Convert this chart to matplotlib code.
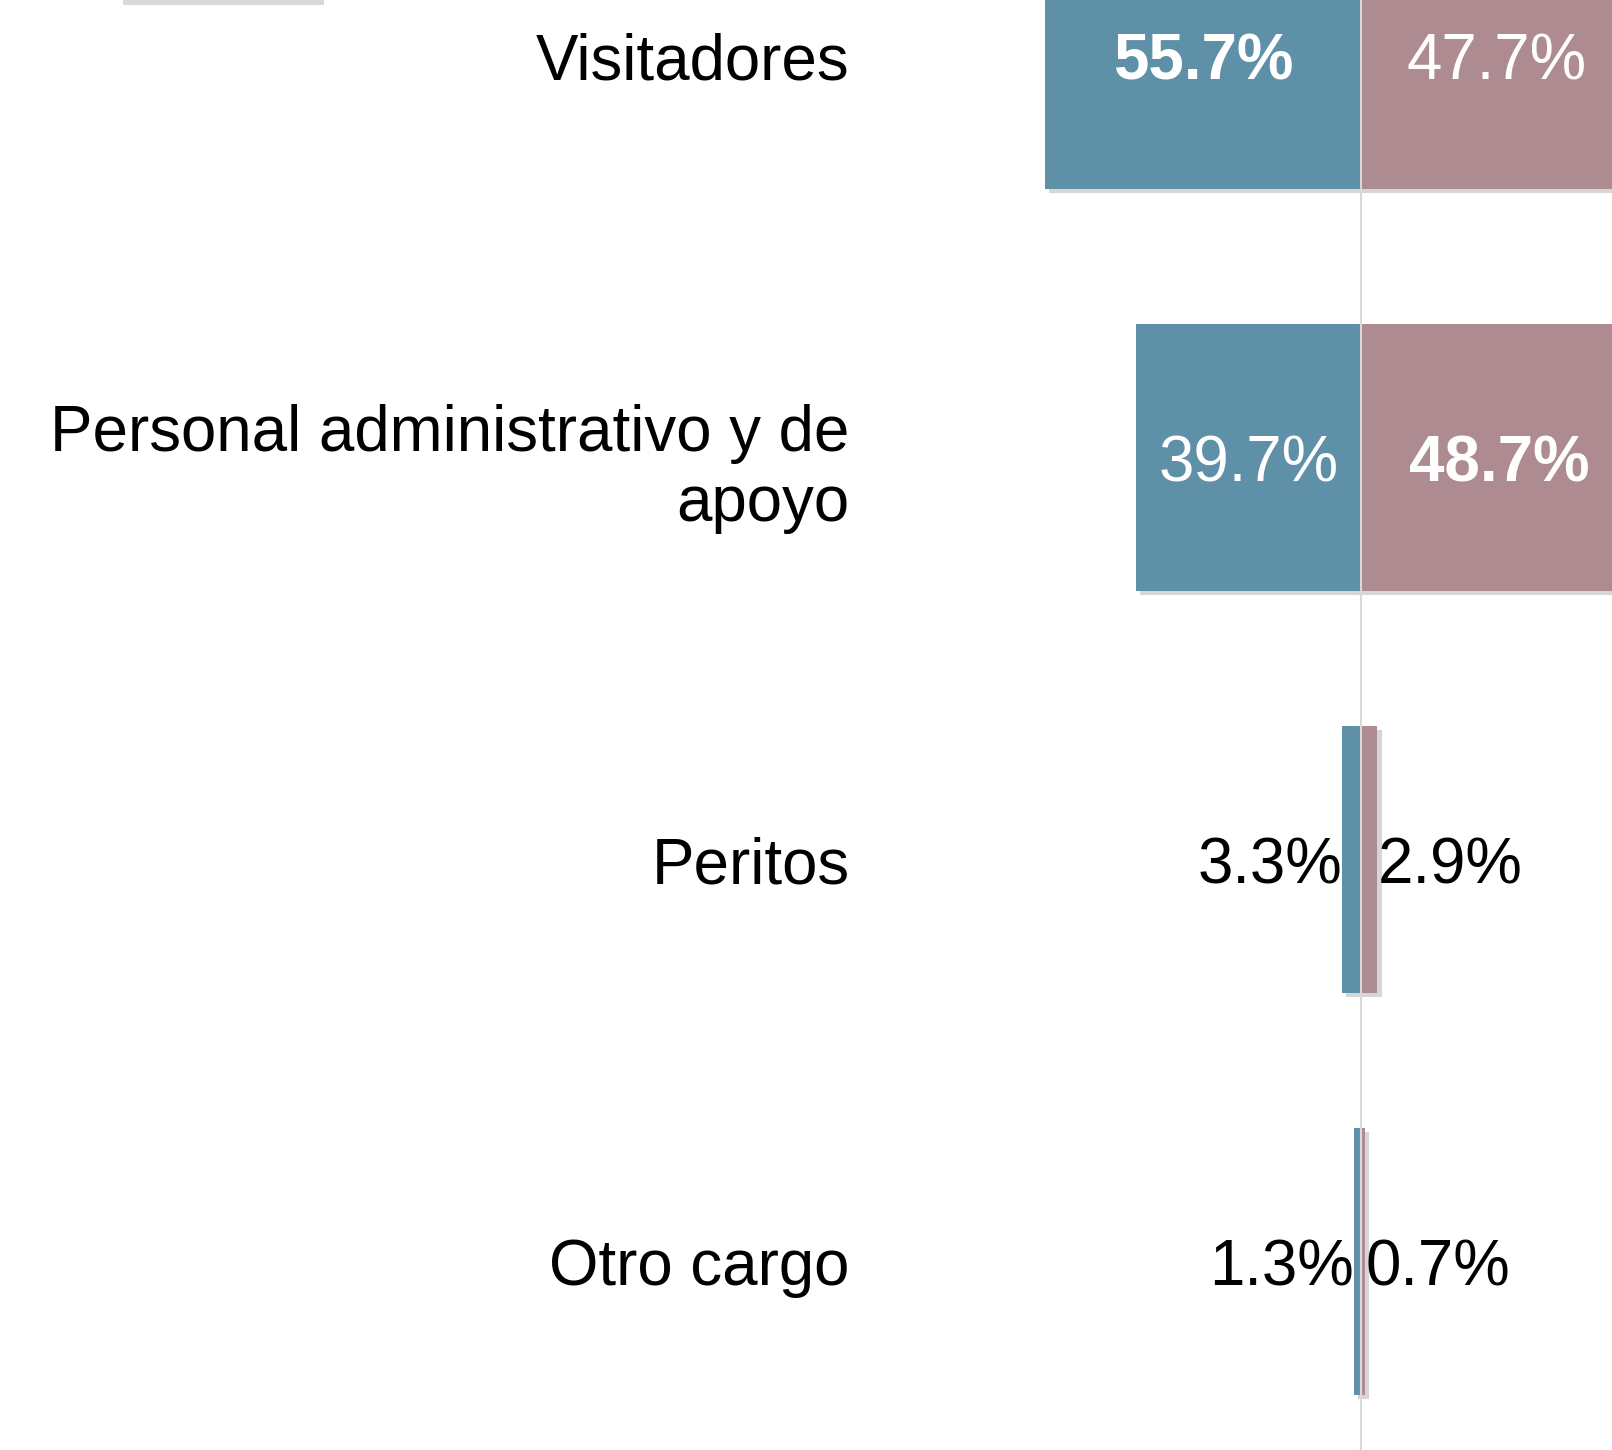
import matplotlib
matplotlib.use("Agg")
import matplotlib.pyplot as plt
import matplotlib.patheffects as pe
from matplotlib.patches import Rectangle

plt.rcParams['font.family'] = ['Liberation Sans', 'DejaVu Sans']

categorias = ["Visitadores", "Personal administrativo y de\napoyo", "Peritos", "Otro cargo"]
serie_izq = [55.7, 39.7, 3.3, 1.3]   # azul
serie_der = [47.7, 48.7, 2.9, 0.7]   # malva
negrita_izq = [True, False, False, False]
negrita_der = [False, True, False, False]

azul = '#5e90a8'
malva = '#ae8a91'
fs = 45.8

W, H = 1612, 1450
fig = plt.figure(figsize=(W / 100, H / 100), dpi=100)

# ejes: centro en x=1361 px, 5.68 px por punto porcentual
ax_left_px = 872
centro_px = 1361
escala = 5.68
ax = fig.add_axes([ax_left_px / W, 0, 1 - ax_left_px / W, 1])
ax.set_xlim(-(centro_px - ax_left_px) / escala, (W - centro_px) / escala)
paso = 402
y0 = 55.5
ax.set_ylim((H - y0) / paso, -y0 / paso)

pos = list(range(len(categorias)))
sombra = [pe.SimplePatchShadow(offset=(3, -3), shadow_rgbFace='#8c8c8c', alpha=0.35), pe.Normal()]

bi = ax.barh(pos, [-v for v in serie_izq], height=0.664, color=azul, zorder=2)
bd = ax.barh(pos, serie_der, height=0.664, color=malva, zorder=2)
for b in list(bi) + list(bd):
    b.set_path_effects(sombra)

ax.axvline(0, color='#d9d9d9', lw=1.5, zorder=3)

for i, (vi, vd) in enumerate(zip(serie_izq, serie_der)):
    if vi > 10:
        ax.text(-vi / 2, i, f"{vi:.1f}%", ha='center', va='center_baseline', color='white',
                fontsize=fs, fontweight='bold' if negrita_izq[i] else 'normal', zorder=4)
    else:
        ax.text(-vi, i, f"{vi:.1f}%", ha='right', va='center_baseline', color='black',
                fontsize=fs, zorder=4)
    if vd > 10:
        ax.text(vd / 2, i, f"{vd:.1f}%", ha='center', va='center_baseline', color='white',
                fontsize=fs, fontweight='bold' if negrita_der[i] else 'normal', zorder=4)
    else:
        ax.text(vd + 0.1, i, f"{vd:.1f}%", ha='left', va='center_baseline', color='black',
                fontsize=fs, zorder=4)

ax.set_yticks(pos)
ax.set_yticklabels(categorias, fontsize=fs, ha='right', linespacing=1.22)
ax.tick_params(axis='y', length=0, pad=16)
ax.set_xticks([])
for s in ax.spines.values():
    s.set_visible(False)
ax.patch.set_alpha(0)

# resto de la leyenda recortada arriba
fig.add_artist(Rectangle((123 / W, 1 - 5 / H), 201 / W, 5 / H, transform=fig.transFigure,
                         color='#d9d9d9', lw=0))

fig.savefig("out.png", dpi=100)
